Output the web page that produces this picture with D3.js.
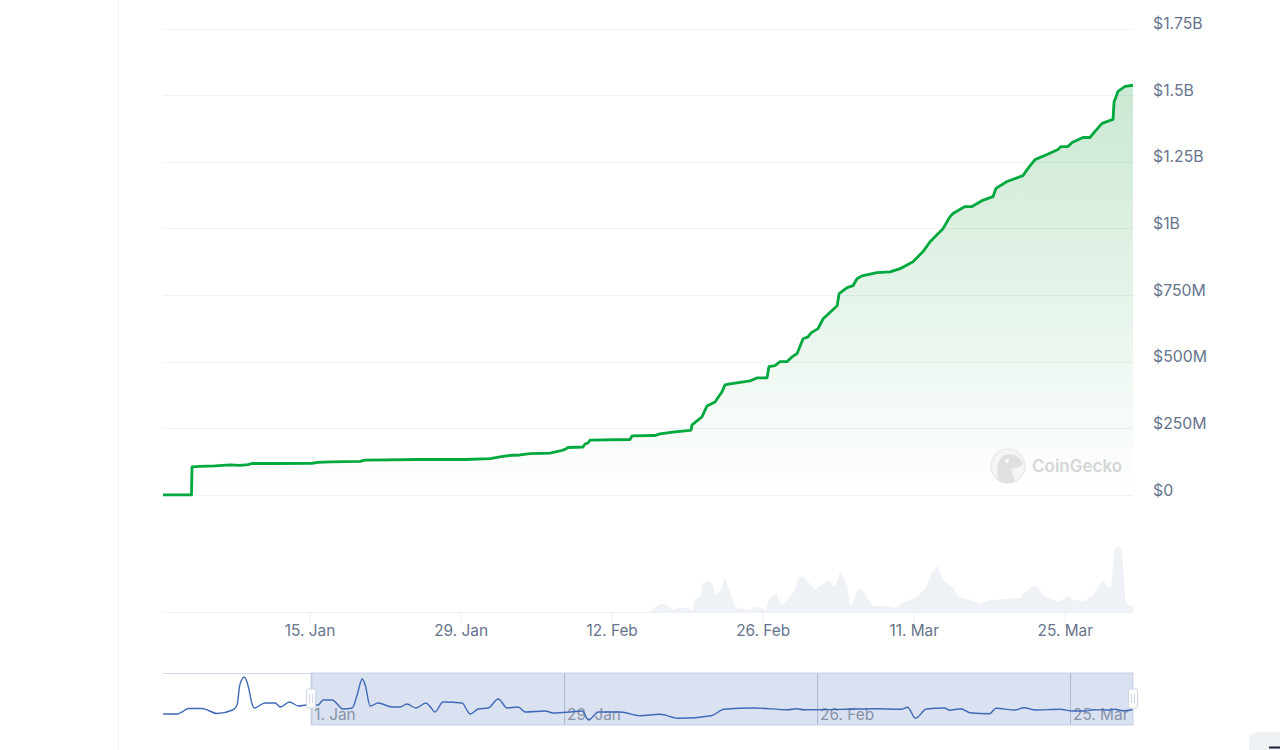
<!DOCTYPE html>
<html lang="en">
<head>
<meta charset="UTF-8">
<title>Market cap chart</title>
<script src="https://d3js.org/d3.v7.min.js"></script>
<style>
    html, body { margin: 0; padding: 0; background: #fff; overflow: hidden; }
    svg { display: block; }
    text { font-family: Inter, "Noto Sans", sans-serif; }
    .y-axis text { font-size: 15.8px; fill: #66748c; }
    .x-axis text { font-size: 15.4px; fill: #66748c; }
    .y-axis path, .y-axis line, .x-axis path, .nav-axis path { display: none; }
    .x-axis line { stroke: #e9edf2; }
    .nav-axis line { stroke: #c3cddd; }
    .nav-axis text { font-size: 15.4px; fill: #9a9fa8; }
    .grid line { stroke: #eef1f5; }
</style>
</head>
<body>
<svg width="1280" height="750"></svg>
<script>
    // days since 1 Jan 2024, market cap in $M
    const capDays = [0.42, 3.06, 3.11, 3.85, 5.24, 6.63, 7.56, 8.30, 8.67, 10.34, 14.23, 14.79, 15.90, 18.68, 19.14, 24.24, 28.41, 30.73, 31.65, 32.12, 32.77, 33.51, 34.43, 36.29, 37.21, 37.68, 37.96, 39.35, 39.53, 39.81, 40.00, 43.70, 43.89, 46.02, 46.48, 47.87, 49.26, 49.36, 49.45, 50.37, 50.84, 51.58, 52.23, 52.51, 52.97, 54.82, 55.47, 56.40, 56.58, 57.14, 57.60, 58.25, 58.72, 59.18, 59.74, 60.20, 60.48, 61.13, 61.60, 62.90, 63.08, 63.83, 64.37, 64.74, 65.20, 66.59, 67.80, 68.73, 69.93, 70.86, 71.51, 72.71, 73.36, 73.64, 74.75, 75.40, 76.32, 77.34, 77.62, 78.64, 80.12, 80.59, 81.24, 82.35, 83.37, 83.65, 84.29, 84.67, 85.68, 86.33, 86.80, 87.45, 88.47, 88.56, 88.93, 89.58, 90.32];
    const capValues = [2, 2, 107, 109, 111, 115, 113, 116, 120, 120, 121, 124, 126, 128, 133, 135, 135, 138, 145, 148, 151, 152, 157, 159, 167, 173, 180, 182, 193, 197, 208, 210, 224, 225, 231, 239, 244, 246, 265, 295, 336, 351, 389, 415, 419, 430, 441, 441, 483, 487, 502, 502, 520, 532, 588, 595, 610, 626, 663, 712, 757, 780, 787, 813, 824, 836, 839, 851, 877, 915, 952, 1001, 1046, 1058, 1084, 1084, 1106, 1121, 1152, 1178, 1200, 1227, 1260, 1279, 1298, 1309, 1309, 1324, 1343, 1343, 1366, 1396, 1411, 1475, 1516, 1535, 1539];

    const volDays = [0.42, 44.6, 45.56, 46.48, 46.95, 47.7, 48.3, 49.1, 49.45, 49.7, 50.2, 50.4, 50.9, 51.3, 51.6, 52.05, 52.5, 52.97, 53.4, 53.7, 54.8, 55.3, 55.9, 56.3, 56.5, 57.3, 57.6, 57.9, 58.5, 59.0, 59.2, 59.7, 60.4, 60.85, 61.5, 62.05, 62.7, 63.2, 63.8, 64.1, 64.3, 64.8, 65.2, 65.8, 66.2, 67.3, 68.3, 69.0, 70.3, 71.2, 71.7, 72.2, 72.6, 73.8, 74.1, 75.2, 76.1, 76.8, 77.3, 80.0, 80.1, 80.9, 81.5, 81.9, 82.9, 83.4, 84.3, 84.7, 85.7, 86.6, 87.5, 87.9, 88.3, 88.6, 89.0, 89.3, 89.6, 90.0, 90.32];
    const volValues = [0, 5, 10, 85, 85, 25, 45, 45, 15, 125, 165, 285, 315, 295, 175, 205, 345, 205, 65, 45, 25, 55, 45, 15, 125, 195, 95, 85, 145, 225, 325, 365, 285, 225, 275, 325, 255, 415, 275, 75, 85, 225, 235, 125, 65, 65, 45, 95, 155, 255, 405, 465, 345, 225, 155, 125, 85, 115, 125, 145, 185, 255, 265, 175, 125, 105, 165, 125, 115, 165, 325, 265, 245, 625, 665, 625, 125, 65, 55];

    const navDays = [-16.4, -14.8, -14.3, -13.6, -12.1, -10.4, -8.7, -8.2, -7.9, -7.4, -7.0, -6.5, -6.3, -5.1, -4.0, -3.4, -2.4, -1.4, -0.55, 0.77, 1.33, 2.32, 3.54, 4.54, 5.09, 5.65, 5.98, 6.53, 7.42, 8.96, 9.85, 10.6, 11.6, 12.7, 13.2, 13.7, 14.6, 16.7, 17.6, 18.5, 19.6, 20.7, 21.7, 22.9, 23.7, 25.9, 26.8, 28.7, 30.0, 30.7, 31.8, 34.2, 36.4, 38.6, 40.7, 44.3, 45.7, 49.0, 52.7, 53.8, 54.5, 59.0, 62.7, 65.3, 66.0, 66.9, 68.1, 70.1, 70.7, 71.9, 72.9, 75.1, 75.8, 77.9, 78.9, 80.2, 82.9, 84.3, 85.7, 86.6, 88.3, 89.0, 89.8, 90.9];
    const navValues = [11, 11, 13, 16.5, 16.5, 11.5, 15, 20, 40, 48, 40, 20, 17, 22, 22, 18, 23, 19, 20, 20, 25, 25, 16, 17, 30, 46, 40, 19, 22, 18, 18, 21, 17, 22, 18, 13, 23, 22, 11, 16, 17, 26, 17, 18, 13, 14, 12, 13, 14, 5, 13, 13, 9.3, 10.7, 6.7, 9.3, 15.7, 17, 15.3, 16.3, 15.3, 15.7, 16.3, 15.7, 17.7, 6.7, 16, 17, 14.7, 16.3, 12.3, 11.3, 16.7, 15, 17.3, 15, 15.7, 14, 14, 15.3, 15, 15.7, 14.3, 15.3];

    const yTicks = [0, 250, 500, 750, 1000, 1250, 1500, 1750];
    const yTickLabels = ["$0", "$250M", "$500M", "$750M", "$1B", "$1.25B", "$1.5B", "$1.75B"];
    const xTickDays = [14, 28, 42, 56, 70, 84];
    const navTickDays = [0, 28, 56, 84];

    const toDate = d => new Date(Date.UTC(2024, 0, 1) + d * 864e5);
    const fmt = d3.utcFormat("%-d. %b");
    const left = 163, right = 1133;

    const svg = d3.select("svg");
    const defs = svg.append("defs");
    const grad = defs.append("linearGradient").attr("id", "capFill")
        .attr("x1", 0).attr("y1", 0).attr("x2", 0).attr("y2", 1);
    grad.append("stop").attr("offset", "0%").attr("stop-color", "#1a9c3e").attr("stop-opacity", 0.23);
    grad.append("stop").attr("offset", "100%").attr("stop-color", "#1a9c3e").attr("stop-opacity", 0);

    // page furniture
    svg.append("line").attr("x1", 118.5).attr("x2", 118.5).attr("y1", 0).attr("y2", 750)
        .attr("stroke", "#f0f2f6").attr("stroke-width", 1);
    svg.append("rect").attr("x", 1249).attr("y", 732).attr("width", 60).attr("height", 40).attr("rx", 9).attr("fill", "#eff2f5");
    svg.append("rect").attr("x", 1269).attr("y", 746.5).attr("width", 11).attr("height", 2).attr("fill", "#1c2536");

    // scales
    const x = d3.scaleUtc().domain([toDate(0.42), toDate(90.32)]).range([left, right]);
    const y = d3.scaleLinear().domain([0, 1750]).range([495.5, 29]);
    const yVol = d3.scaleLinear().domain([0, 700]).range([612.5, 542.5]);
    const xNav = d3.scaleUtc().domain([toDate(-16.4), toDate(90.97)]).range([left, right]);
    const yNav = d3.scaleLinear().domain([0, 52]).range([725, 673]);

    // gridlines
    svg.append("g").attr("class", "grid").selectAll("line").data(yTicks).join("line")
        .attr("x1", left).attr("x2", right)
        .attr("y1", d => Math.floor(y(d)) + 0.5).attr("y2", d => Math.floor(y(d)) + 0.5);
    svg.append("line").attr("x1", left).attr("x2", right).attr("y1", 612.5).attr("y2", 612.5).attr("stroke", "#eef1f5");

    // volume
    const volData = volDays.map((d, i) => ({ t: toDate(d), v: volValues[i] }));
    svg.append("path").datum(volData)
        .attr("fill", "#eef1f5")
        .attr("d", d3.area().x(d => x(d.t)).y0(yVol(0)).y1(d => yVol(d.v)));

    // market cap
    const capData = capDays.map((d, i) => ({ t: toDate(d), v: capValues[i] }));
    svg.append("path").datum(capData)
        .attr("fill", "url(#capFill)")
        .attr("d", d3.area().x(d => x(d.t)).y0(y(0)).y1(d => y(d.v)));
    svg.append("path").datum(capData)
        .attr("fill", "none").attr("stroke", "#00a83e").attr("stroke-width", 2.8).attr("stroke-linejoin", "round")
        .attr("d", d3.line().x(d => x(d.t)).y(d => y(d.v)));

    // watermark
    const mark = svg.append("g").attr("transform", "translate(1008,466)").attr("opacity", 0.9);
    mark.append("circle").attr("r", 17).attr("fill", "#f4f6f4").attr("stroke", "#dfe2e0").attr("stroke-width", 1);
    mark.append("path").attr("fill", "#dcdfdc")
        .attr("d", "M-10,14 C-12,2 -10,-12 1,-12 C8,-12 14,-7 15,-2 C11,2 5,3 3,3 C4,8 6,12 7,15 C2,18 -6,18 -10,14 Z");
    mark.append("circle").attr("cx", -1).attr("cy", -5).attr("r", 2).attr("fill", "#fff");
    svg.append("text").attr("x", 1032).attr("y", 471.5).attr("fill", "#d4d7d6")
        .attr("font-size", 17).attr("font-weight", 600).text("CoinGecko");

    // axes
    svg.append("g").attr("class", "y-axis").attr("transform", `translate(${right},0)`)
        .call(d3.axisRight(y).tickValues(yTicks).tickSize(0).tickPadding(20).tickFormat((d, i) => yTickLabels[i]))
        .selectAll("text").attr("dy", "-0.02em");
    svg.append("g").attr("class", "x-axis").attr("transform", "translate(0,612.5)")
        .call(d3.axisBottom(x).tickValues(xTickDays.map(toDate)).tickSize(10).tickPadding(3).tickFormat(fmt));

    // navigator
    const navAxis = svg.append("g").attr("class", "nav-axis").attr("transform", "translate(0,673)")
        .call(d3.axisBottom(xNav).tickValues(navTickDays.map(toDate)).tickSize(52).tickFormat(fmt));
    navAxis.selectAll("text").attr("text-anchor", "start").attr("dx", 2.5).attr("y", 36).attr("dy", "0.71em");

    const navData = navDays.map((d, i) => ({ t: toDate(d), v: navValues[i] }));
    svg.append("rect").attr("x", xNav(toDate(0))).attr("y", yNav(52)).attr("width", right - xNav(toDate(0))).attr("height", 52)
        .attr("fill", "#3a5fb0").attr("fill-opacity", 0.19).attr("stroke", "#c7d1e3").attr("stroke-width", 1);
    svg.append("line").attr("x1", left).attr("x2", xNav(toDate(0))).attr("y1", 673.5).attr("y2", 673.5).attr("stroke", "#cfd7e6");
    svg.append("path").datum(navData)
        .attr("fill", "none").attr("stroke", "#3f69b7").attr("stroke-width", 1.4)
        .attr("d", d3.line().x(d => xNav(d.t)).y(d => yNav(d.v)).curve(d3.curveMonotoneX));

    // handles
    const handles = svg.append("g").selectAll("g").data([xNav(toDate(0)), right]).join("g")
        .attr("transform", d => `translate(${d},699)`);
    handles.append("rect").attr("x", -4.5).attr("y", -10).attr("width", 9).attr("height", 19).attr("rx", 1.5)
        .attr("fill", "#fff").attr("stroke", "#ccd4e2");
    handles.selectAll("line").data([-1.5, 1.5]).join("line")
        .attr("x1", d => d).attr("x2", d => d).attr("y1", -5).attr("y2", 4).attr("stroke", "#ccd4e2");
</script>
</body>
</html>
